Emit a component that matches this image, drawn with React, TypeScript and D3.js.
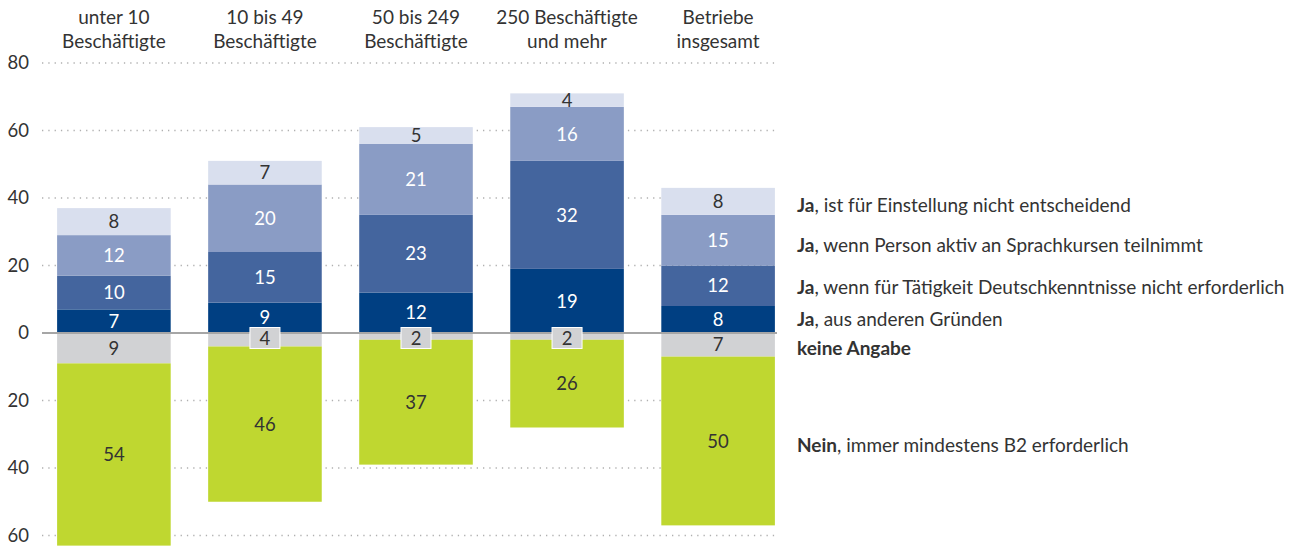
import React from "react";
import * as d3 from "d3";

const categories = [
  ["unter 10", "Beschäftigte"],
  ["10 bis 49", "Beschäftigte"],
  ["50 bis 249", "Beschäftigte"],
  ["250 Beschäftigte", "und mehr"],
  ["Betriebe", "insgesamt"],
];
// positive stack, bottom to top
const jaAndere = [7, 9, 12, 19, 8];
const jaTaetigkeit = [10, 15, 23, 32, 12];
const jaSprachkurs = [12, 20, 21, 16, 15];
const jaNichtEntscheidend = [8, 7, 5, 4, 8];
// negative stack, top to bottom
const keineAngabe = [9, 4, 2, 2, 7];
const nein = [54, 46, 37, 26, 50];

const yTicks = [80, 60, 40, 20, 0, -20, -40, -60];

const posSeries = [
  { key: "andere", values: jaAndere, color: "#003f82", text: "#ffffff", bold: "Ja", rest: ", aus anderen Gründen" },
  { key: "taet", values: jaTaetigkeit, color: "#44659e", text: "#ffffff", bold: "Ja", rest: ", wenn für Tätigkeit Deutschkenntnisse nicht erforderlich" },
  { key: "sprach", values: jaSprachkurs, color: "#8a9cc5", text: "#ffffff", bold: "Ja", rest: ", wenn Person aktiv an Sprachkursen teilnimmt" },
  { key: "nicht", values: jaNichtEntscheidend, color: "#d9dfee", text: "#333333", bold: "Ja", rest: ", ist für Einstellung nicht entscheidend" },
];
const negSeries = [
  { key: "ka", values: keineAngabe, color: "#d1d2d4", text: "#333333", bold: "keine Angabe", rest: "" },
  { key: "nein", values: nein, color: "#bfd730", text: "#333333", bold: "Nein", rest: ", immer mindestens B2 erforderlich" },
];

const FONT = "Lato, 'Source Sans Pro', sans-serif";

export default function App() {
  const W = 1290, H = 546;
  const y = d3.scaleLinear().domain([80, -60]).range([63, 535.5]);
  const x = d3.scaleBand<number>().domain(d3.range(categories.length)).range([42, 790]).paddingInner(0.248).paddingOuter(0.1);
  const bw = x.bandwidth();
  const fs = 18.5;
  const lfs = 19;

  const segs: any[] = [];
  categories.forEach((_, i) => {
    let acc = 0;
    posSeries.forEach((s) => {
      const v = s.values[i];
      segs.push({ i, s, v, y0: acc, y1: acc + v });
      acc += v;
    });
    acc = 0;
    negSeries.forEach((s) => {
      const v = s.values[i];
      segs.push({ i, s, v, y0: -acc, y1: -(acc + v) });
      acc += v;
    });
  });
  const last = categories.length - 1;
  const legendY: Record<string, number> = {};
  segs.filter((d) => d.i === last).forEach((d) => {
    legendY[d.s.key] = y((d.y0 + d.y1) / 2);
  });
  const legendAdj: Record<string, number> = { nicht: 4, sprach: 5, taet: 1, andere: 0, ka: 3, nein: 4 };

  return (
    <svg width={W} height={H} style={{ position: "absolute", left: 0, top: 0 }} fontFamily={FONT}>
      {/* headers */}
      {categories.map((c, i) => (
        <text key={"h" + i} x={x(i)! + bw / 2} textAnchor="middle" fontSize={lfs} fill="#333">
          <tspan x={x(i)! + bw / 2} y={24}>{c[0]}</tspan>
          <tspan x={x(i)! + bw / 2} y={48}>{c[1]}</tspan>
        </text>
      ))}
      {/* grid */}
      {yTicks.filter((t) => t !== 0).map((t) => (
        <line key={"g" + t} x1={42} x2={776} y1={y(t)} y2={y(t)} stroke="#b0b0b0" strokeWidth={1.3} strokeDasharray="1.3 5" />
      ))}
      {yTicks.map((t) => (
        <text key={"t" + t} x={29} y={y(t)} dy="0.35em" textAnchor="end" fontSize={fs} fill="#333">
          {Math.abs(t)}
        </text>
      ))}
      {/* bars */}
      {segs.map((d, k) => (
        <rect key={"r" + k} x={x(d.i)} width={bw} y={y(Math.max(d.y0, d.y1))} height={Math.abs(y(d.y0) - y(d.y1))} fill={d.s.color} />
      ))}
      <line x1={42} x2={777} y1={y(0)} y2={y(0)} stroke="#a6a6a6" strokeWidth={2} />
      {/* labels */}
      {segs.map((d, k) => {
        const cx = x(d.i)! + bw / 2;
        const small = d.s.key === "ka" && Math.abs(y(d.y0) - y(d.y1)) < 18;
        if (small) {
          const cy = y(0) + 5;
          return (
            <g key={"l" + k}>
              <rect x={cx - 15} y={cy - 10.5} width={30} height={21} fill={d.s.color} stroke="#ffffff" strokeWidth={1} />
              <text x={cx} y={cy} dy="0.36em" textAnchor="middle" fontSize={fs} fill={d.s.text}>{d.v}</text>
            </g>
          );
        }
        return (
          <text key={"l" + k} x={cx} y={y((d.y0 + d.y1) / 2)} dy="0.36em" textAnchor="middle" fontSize={fs} fill={d.s.text}>
            {d.v}
          </text>
        );
      })}
      {/* legend */}
      {[...posSeries, ...negSeries].map((s) => (
        <text key={"lg" + s.key} x={797} y={legendY[s.key] + legendAdj[s.key]} dy="0.36em" fontSize={lfs} fill="#333">
          <tspan fontWeight="bold">{s.bold}</tspan>
          <tspan>{s.rest}</tspan>
        </text>
      ))}
    </svg>
  );
}
